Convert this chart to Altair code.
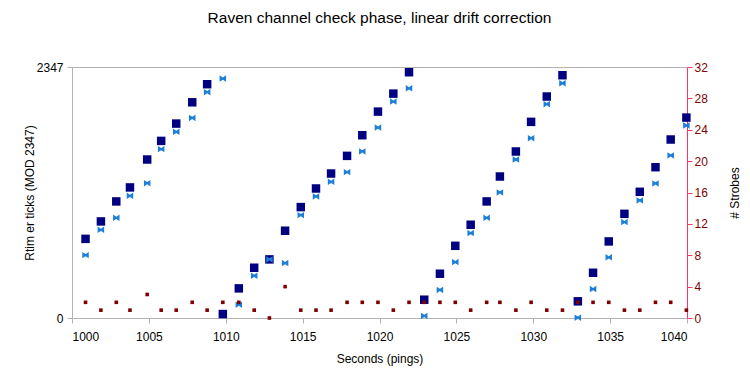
import altair as alt
import pandas as pd

# Ping times (seconds)
times = [1000.88, 1001.88, 1002.88, 1003.77, 1004.89, 1005.80, 1006.78, 1007.82, 1008.79, 1009.81,
         1010.85, 1011.85, 1012.84, 1013.86, 1014.88, 1015.87, 1016.85, 1017.89, 1018.88, 1019.90,
         1020.90, 1021.92, 1022.91, 1023.93, 1024.93, 1025.93, 1026.97, 1027.83, 1028.87, 1029.86,
         1030.88, 1031.90, 1032.90, 1033.89, 1034.91, 1035.93, 1036.93, 1037.95, 1038.94, 1039.96]

# Rtimer ticks (MOD 2347), navy squares
navy_ticks = [740, 903, 1090, 1221, 1482, 1656, 1818, 2017, 2186, 37,
              277, 470, 548, 816, 1037, 1211, 1351, 1516, 1709, 1930,
              2098, 2298, 171, 414, 675, 872, 1090, 1323, 1557, 1834,
              2071, 2270, 156, 423, 716, 974, 1180, 1410, 1669, 1874]

# Linear drift corrected ticks, light blue bowties
blue_ticks = [588, 825, 937, 1143, 1261, 1579, 1741, 1871, 2111, 2239,
              124, 395, 548, 514, 962, 1137, 1273, 1364, 1557, 1781,
              2024, 2148, 19, 262, 523, 794, 937, 1174, 1482, 1681,
              1999, 2195, 3, 271, 567, 897, 1099, 1258, 1520, 1800]

# Number of strobes (right axis)
strobes = [2, 1, 2, 1, 3, 1, 1, 2, 1, 2,
           2, 1, 0, 4, 1, 1, 1, 2, 2, 2,
           1, 2, 2, 2, 2, 1, 2, 2, 1, 2,
           1, 1, 2, 2, 2, 1, 1, 2, 2, 1]

x_ticks = list(range(1000, 1041, 5))
left_ticks = [0, 2347]
right_ticks = list(range(0, 33, 4))

df = pd.DataFrame({"t": times, "navy": navy_ticks, "blue": blue_ticks, "strobes": strobes})

FONT = "Liberation Sans"
GREY = "#b3b3b3"

x_axis = alt.Axis(values=x_ticks, format="d", title="Seconds (pings)",
                  grid=False, domainColor=GREY, tickColor=GREY, tickSize=5,
                  labelPadding=8, labelFontSize=12, labelColor="black",
                  titleFontSize=12, titleFontWeight="normal", titlePadding=11,
                  labelFont=FONT, titleFont=FONT, titleColor="black")
x_scale = alt.Scale(domain=[1000, 1040], nice=False, zero=False)


def x_enc():
    return alt.X("t:Q", scale=x_scale, axis=x_axis)


bowtie = "M-1,-1L0,-0.35L1,-1L1,1L0,0.35L-1,1Z"

navy = alt.Chart(df).mark_point(shape="square", filled=True, size=72, color="#000080", opacity=1).encode(
    x=x_enc(),
    y=alt.Y("navy:Q",
            scale=alt.Scale(domain=[0, 2347], nice=False),
            axis=alt.Axis(values=left_ticks, format="d", title="Rtim er ticks (MOD 2347)",
                          grid=True, gridColor=GREY, domainColor=GREY, tickColor=GREY, tickSize=5,
                          labelFontSize=12, labelColor="black", labelPadding=4,
                          titleFontSize=12, titleFontWeight="normal", titlePadding=0,
                          labelFont=FONT, titleFont=FONT, titleColor="black")),
)

blue = alt.Chart(df).mark_point(shape=bowtie, filled=True, size=42, color="#1e7fd8", opacity=1).encode(
    x=x_enc(),
    y=alt.Y("blue:Q", scale=alt.Scale(domain=[0, 2347], nice=False), axis=None),
)

strobe = alt.Chart(df).mark_point(shape="square", filled=True, size=13, color="#800000", opacity=1).encode(
    x=x_enc(),
    y=alt.Y("strobes:Q",
            scale=alt.Scale(domain=[0, 32], nice=False),
            axis=alt.Axis(orient="right", values=right_ticks, title="# Strobes",
                          grid=False, domainColor="#ff3366", tickColor="#ff3366", tickSize=5,
                          labelFontSize=12, labelColor="#800000", labelPadding=2,
                          titleFontSize=12, titleFontWeight="normal", titlePadding=34,
                          titleAngle=270,
                          labelFont=FONT, titleFont=FONT, titleColor="black")),
)

chart = alt.layer(navy, blue, strobe).resolve_scale(y="independent").properties(
    width=615,
    height=251,
    autosize=alt.AutoSizeParams(type="none"),
    padding={"left": 64, "top": 59, "right": 55, "bottom": 50},
    title=alt.TitleParams("Raven channel check phase, linear drift correction",
                          fontSize=15.5, fontWeight="normal", font=FONT, color="black",
                          anchor="middle", offset=35),
).configure_view(stroke=None)

chart.save("out.html", embed_options={"renderer": "svg", "actions": False})
